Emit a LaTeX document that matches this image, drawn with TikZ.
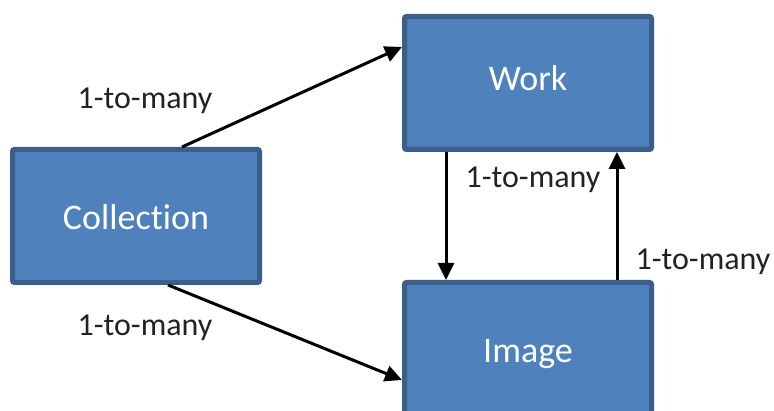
\documentclass[tikz,border=0pt]{standalone}
\usepackage{fontspec}
\setmainfont{Carlito}[Ligatures={NoCommon,NoRare}]
\usetikzlibrary{arrows.meta}
\definecolor{boxfill}{HTML}{4F81BD}
\definecolor{boxline}{HTML}{3A5F8B}
\definecolor{labtext}{HTML}{222222}
\tikzset{
  entity/.style={draw=boxline, fill=boxfill, line width=5pt, rounded corners=2pt,
    minimum width=247pt, minimum height=133pt, text=white, font=\fontsize{36}{42}\selectfont,
    inner sep=0pt, text height=23pt, text depth=0pt},
  rel/.style={line width=3pt, -{Triangle[length=17pt,width=16pt]}},
  lab/.style={anchor=base, text=labtext, font=\fontsize{32}{38}\selectfont, inner sep=0pt}
}
\begin{document}
\begin{tikzpicture}[x=1pt,y=1pt]
\useasboundingbox (0,0) rectangle (774,411);
\node[entity] (coll) at (136,195) {\raisebox{-2pt}{Collection}};
\node[entity] (work) at (528,328) {\raisebox{4pt}{Work}};
\node[entity] (img) at (528,62) {\raisebox{-2pt}{Image}};
\draw[rel] ([xshift=46pt]coll.north) -- ([yshift=36pt]work.west);
\draw[rel] ([xshift=32pt]coll.south) -- ([yshift=-31pt]img.west);
\draw[rel] ([xshift=-82pt]work.south) -- ([xshift=-82pt]img.north);
\draw[rel] ([xshift=89pt]img.north) -- ([xshift=89pt]work.south);
\node[lab] (l1) at (145,302) {1-to-many};
\node[lab] (l2) at (145,75) {1-to-many};
\node[lab] (l3) at (533,223) {1-to-many};
\node[lab] (l4) at (703,141) {1-to-many};
\end{tikzpicture}
\end{document}
